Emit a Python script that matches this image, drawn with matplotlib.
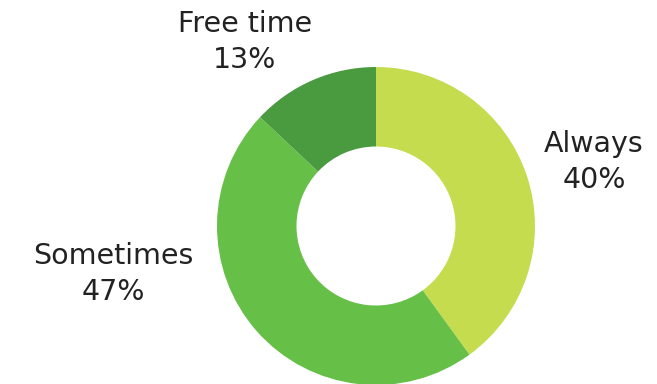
import matplotlib.pyplot as plt

# chart data
categories = ["Always", "Sometimes", "Free time"]
shares = [40, 47, 13]
colors = ["#c5dc4e", "#66bf47", "#4a9a40"]

# label anchor points (pixel space, y measured from top)
label_pos = {"Always": (594, 162), "Sometimes": (113, 274), "Free time": (245, 42)}

plt.rcParams['font.family'] = ['DejaVu Sans']

W, H = 657, 384
fig = plt.figure(figsize=(W / 100, H / 100), dpi=100)
ax = fig.add_axes([0, 0, 1, 1])
ax.set_xlim(0, W)
ax.set_ylim(0, H)
ax.set_aspect('equal')
ax.axis('off')

cx, cy, r = 376, H - 226, 159
ax.pie(shares, colors=colors, startangle=90, counterclock=False,
       center=(cx, cy), radius=r,
       wedgeprops=dict(width=r * 0.5, linewidth=0))
ax.set_xlim(0, W)
ax.set_ylim(0, H)

for name, val in zip(categories, shares):
    x, y = label_pos[name]
    ax.text(x, H - y, f"{name}\n{val}%", ha='center', va='center',
            fontsize=20.5, color='#222222', linespacing=1.32)

fig.savefig("out.png", dpi=100)
